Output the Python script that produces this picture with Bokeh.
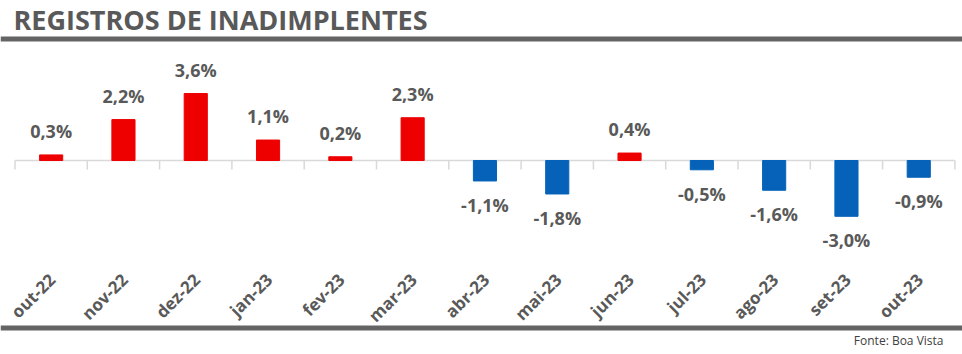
import math
from bokeh.plotting import figure
from bokeh.models import Range1d, Label, BoxAnnotation, ColumnDataSource
from bokeh.core.properties import value
from bokeh.embed import file_html
from bokeh.resources import INLINE

# ---- data ----
months = ["out-22", "nov-22", "dez-22", "jan-23", "fev-23", "mar-23", "abr-23",
          "mai-23", "jun-23", "jul-23", "ago-23", "set-23", "out-23"]
changes = [0.3, 2.2, 3.6, 1.1, 0.2, 2.3, -1.1, -1.8, 0.4, -0.5, -1.6, -3.0, -0.9]
title_text = "REGISTROS DE INADIMPLENTES"
source_text = "Fonte: Boa Vista"

W, H = 962, 354
FONT = "Open Sans"
GRAY = "#595959"
RED = "#ee0000"
BLUE = "#0562b8"

# pixel geometry
x0_px, cat_px = 14.5, 72.3
zero_px, unit_px = 160.0, 18.6

x_range = Range1d(-x0_px / cat_px, (W - x0_px) / cat_px)
y_range = Range1d(-(H - zero_px) / unit_px, zero_px / unit_px)

p = figure(width=W, height=H, x_range=x_range, y_range=y_range,
           output_backend="svg", toolbar_location=None,
           x_axis_location=None, y_axis_location=None,
           min_border=0, outline_line_color=None,
           background_fill_color="white", border_fill_color="white")
p.xgrid.visible = False
p.ygrid.visible = False

n = len(months)
xs = [i + 0.5 for i in range(n)]
colors = [RED if v >= 0 else BLUE for v in changes]
labels = [("%.1f%%" % v).replace(".", ",") for v in changes]
offs = [-24 if v >= 0 else 24 for v in changes]

src = ColumnDataSource(dict(x=xs, v=changes, c=colors, lab=labels, off=offs,
                            m=months))

# zero axis line and ticks
p.segment(x0=[0], y0=[0], x1=[n], y1=[0], line_color="#d9d9d9", line_width=1.5)
tick_len = 9 / unit_px
p.segment(x0=list(range(n + 1)), y0=[0] * (n + 1), x1=list(range(n + 1)),
          y1=[-tick_len] * (n + 1), line_color="#d9d9d9", line_width=1.5)

# bars
p.vbar(x="x", top="v", bottom=0, width=0.32, fill_color="c", line_color="c",
       source=src)

# value labels
p.text(x="x", y="v", text="lab", y_offset="off", source=src,
       text_align="center", text_baseline="middle",
       text_font=value(FONT), text_font_style="bold",
       text_font_size="18px", text_color=GRAY)

# category labels (rotated)
label_y = (zero_px - 276) / unit_px
p.text(x="x", y=label_y, text="m", source=src, angle=math.pi / 4,
       x_offset=1, text_align="right", text_baseline="middle",
       text_font=value(FONT), text_font_style="bold",
       text_font_size="17px", text_color=GRAY)

# title and rules
p.add_layout(Label(x=13, y=H - 19, x_units="screen", y_units="screen",
                   text=title_text, text_font=FONT, text_font_style="bold",
                   text_font_size="27px", text_color=GRAY,
                   text_baseline="middle"))
p.add_layout(BoxAnnotation(left=0, right=W, bottom=H - 41, top=H - 36,
                           left_units="screen", right_units="screen",
                           top_units="screen", bottom_units="screen",
                           fill_color="#646464", fill_alpha=1, line_color=None))
p.add_layout(BoxAnnotation(left=0, right=W, bottom=H - 330, top=H - 325,
                           left_units="screen", right_units="screen",
                           top_units="screen", bottom_units="screen",
                           fill_color="#646464", fill_alpha=1, line_color=None))
p.add_layout(Label(x=943, y=H - 340, x_units="screen", y_units="screen",
                   text=source_text, text_font=FONT, text_font_size="12px",
                   text_color="#404040", text_align="right",
                   text_baseline="middle"))

open("out.html", "w").write(file_html(p, INLINE))
